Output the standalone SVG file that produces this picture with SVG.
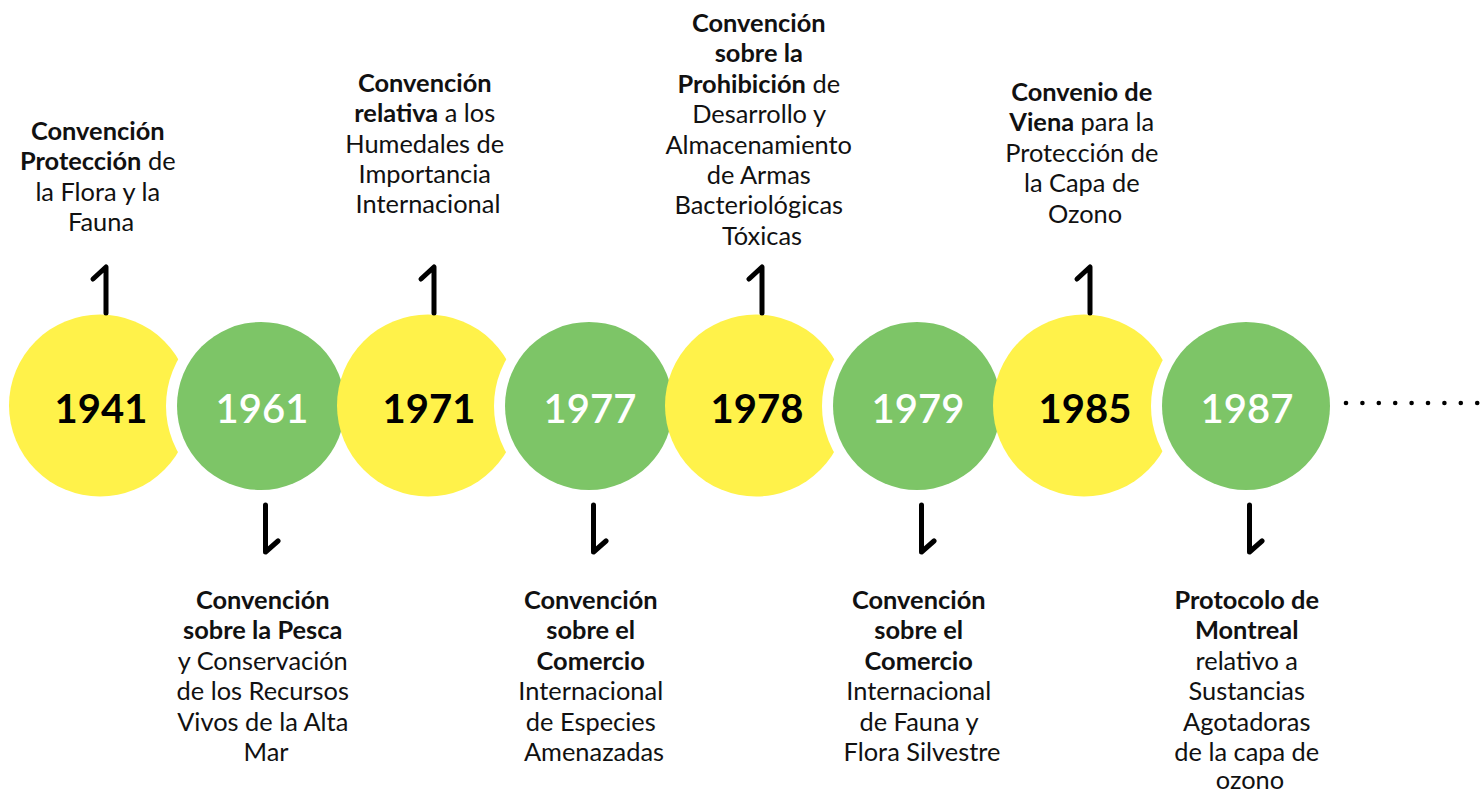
<svg xmlns="http://www.w3.org/2000/svg" width="1482" height="793" viewBox="0 0 1482 793">
<style>
.y{fill:#FFF24A}
.g{fill:#7DC567;stroke:#fff;stroke-width:22;paint-order:stroke}
.yr{font-family:Lato,"Liberation Sans",sans-serif;font-size:40px;text-anchor:middle}
.yb{fill:#000;font-weight:700}
.yw{fill:#fff;font-weight:600}
.lb{font-family:Lato,"Liberation Sans",sans-serif;font-size:25.4px;fill:#111;text-anchor:middle}
.b{font-weight:700}
.c{fill:none;stroke:#000;stroke-width:5;stroke-linecap:round;stroke-linejoin:round}
.d{fill:#000}
</style>
<rect width="1482" height="793" fill="#fff"/>
<g id="n1941"><circle class="y" cx="100" cy="405.5" r="91"/><text class="yr yb" x="101" y="423">1941</text></g>
<g id="n1961"><circle class="g" cx="261" cy="406" r="84"/><text class="yr yw" x="262" y="423">1961</text></g>
<g id="n1971"><circle class="y" cx="428" cy="405.5" r="91"/><text class="yr yb" x="429" y="423">1971</text></g>
<g id="n1977"><circle class="g" cx="589" cy="406" r="84"/><text class="yr yw" x="590" y="423">1977</text></g>
<g id="n1978"><circle class="y" cx="756" cy="405.5" r="91"/><text class="yr yb" x="757" y="423">1978</text></g>
<g id="n1979"><circle class="g" cx="917" cy="406" r="84"/><text class="yr yw" x="918" y="423">1979</text></g>
<g id="n1985"><circle class="y" cx="1084" cy="405.5" r="91"/><text class="yr yb" x="1085" y="423">1985</text></g>
<g id="n1987"><circle class="g" cx="1246" cy="406" r="84"/><text class="yr yw" x="1247" y="423">1987</text></g>

<g id="connectors">
<path class="c" d="M93 279 L106 267 L106 313"/>
<path class="c" d="M421 279 L434 267 L434 313"/>
<path class="c" d="M749 279 L762 267 L762 313"/>
<path class="c" d="M1077 279 L1090 267 L1090 313"/>
<path class="c" d="M265.5 505 L265.5 552 L278 541"/>
<path class="c" d="M593.5 505 L593.5 552 L606 541"/>
<path class="c" d="M921.5 505 L921.5 552 L934 541"/>
<path class="c" d="M1249.5 505 L1249.5 552 L1262 541"/>
</g>

<g id="dots">
<circle class="d" cx="1346" cy="403" r="2.3"/>
<circle class="d" cx="1362.4" cy="403" r="2.3"/>
<circle class="d" cx="1378.8" cy="403" r="2.3"/>
<circle class="d" cx="1395.2" cy="403" r="2.3"/>
<circle class="d" cx="1411.6" cy="403" r="2.3"/>
<circle class="d" cx="1428" cy="403" r="2.3"/>
<circle class="d" cx="1444.4" cy="403" r="2.3"/>
<circle class="d" cx="1460.8" cy="403" r="2.3"/>
<circle class="d" cx="1477.2" cy="403" r="2.3"/>
</g>

<g id="l1941"><text class="lb">
<tspan x="101" y="140" class="b">Convención</tspan>
<tspan x="101" y="170.3"><tspan class="b">Protección</tspan> de</tspan>
<tspan x="101" y="200.6">la Flora y la</tspan>
<tspan x="101" y="231">Fauna</tspan>
</text></g>

<g id="l1971"><text class="lb">
<tspan x="428" y="92" class="b">Convención</tspan>
<tspan x="428" y="122.3"><tspan class="b">relativa</tspan> a los</tspan>
<tspan x="428" y="152.6">Humedales de</tspan>
<tspan x="428" y="183">Importancia</tspan>
<tspan x="428" y="213.3">Internacional</tspan>
</text></g>

<g id="l1978"><text class="lb">
<tspan x="762" y="32" class="b">Convención</tspan>
<tspan x="762" y="62.4" class="b">sobre la</tspan>
<tspan x="762" y="92.8"><tspan class="b">Prohibición</tspan> de</tspan>
<tspan x="762" y="123.2">Desarrollo y</tspan>
<tspan x="762" y="153.6">Almacenamiento</tspan>
<tspan x="762" y="184">de Armas</tspan>
<tspan x="762" y="214.4">Bacteriológicas</tspan>
<tspan x="762" y="244.8">Tóxicas</tspan>
</text></g>

<g id="l1985"><text class="lb">
<tspan x="1085" y="101" class="b">Convenio de</tspan>
<tspan x="1085" y="131.4"><tspan class="b">Viena</tspan> para la</tspan>
<tspan x="1085" y="161.8">Protección de</tspan>
<tspan x="1085" y="192.2">la Capa de</tspan>
<tspan x="1085" y="222.6">Ozono</tspan>
</text></g>

<g id="l1961"><text class="lb">
<tspan x="266" y="609" class="b">Convención</tspan>
<tspan x="266" y="639.4" class="b">sobre la Pesca</tspan>
<tspan x="266" y="669.8">y Conservación</tspan>
<tspan x="266" y="700.2">de los Recursos</tspan>
<tspan x="266" y="730.6">Vivos de la Alta</tspan>
<tspan x="266" y="761">Mar</tspan>
</text></g>

<g id="l1977"><text class="lb">
<tspan x="594" y="609" class="b">Convención</tspan>
<tspan x="594" y="639.4" class="b">sobre el</tspan>
<tspan x="594" y="669.8" class="b">Comercio</tspan>
<tspan x="594" y="700.2">Internacional</tspan>
<tspan x="594" y="730.6">de Especies</tspan>
<tspan x="594" y="761">Amenazadas</tspan>
</text></g>

<g id="l1979"><text class="lb">
<tspan x="922" y="609" class="b">Convención</tspan>
<tspan x="922" y="639.4" class="b">sobre el</tspan>
<tspan x="922" y="669.8" class="b">Comercio</tspan>
<tspan x="922" y="700.2">Internacional</tspan>
<tspan x="922" y="730.6">de Fauna y</tspan>
<tspan x="922" y="761">Flora Silvestre</tspan>
</text></g>

<g id="l1987"><text class="lb">
<tspan x="1250" y="609" class="b">Protocolo de</tspan>
<tspan x="1250" y="639.4" class="b">Montreal</tspan>
<tspan x="1250" y="669.8">relativo a</tspan>
<tspan x="1250" y="700.2">Sustancias</tspan>
<tspan x="1250" y="730.6">Agotadoras</tspan>
<tspan x="1250" y="761">de la capa de</tspan>
<tspan x="1250" y="789">ozono</tspan>
</text></g>
</svg>
